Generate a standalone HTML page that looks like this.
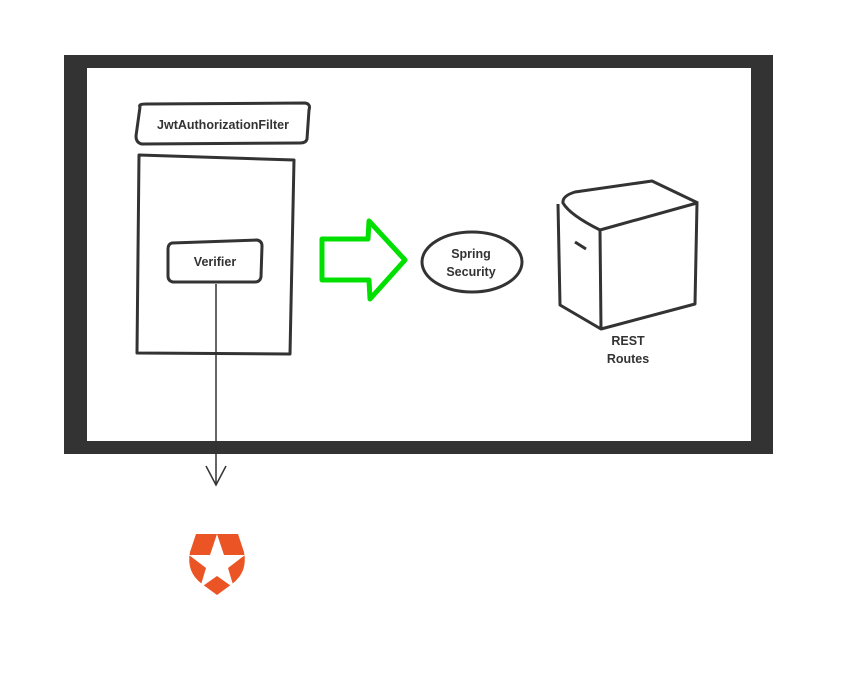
<!DOCTYPE html>
<html><head><style>body{margin:0;background:#fff}svg{display:block}text{font-family:"Liberation Sans",sans-serif;font-weight:bold;font-size:12.5px;fill:#333}</style></head><body>
<svg width="844" height="677" viewBox="0 0 844 677" xmlns="http://www.w3.org/2000/svg">
<rect x="64" y="55" width="709" height="399" fill="#333"/>
<rect x="87" y="68" width="664" height="373" fill="#fff"/>
<g fill="none" stroke="#333" stroke-width="3" stroke-linejoin="round">
<path d="M140 107 Q138 104 146 104 L305 103 Q311 104 309 110 L307 139 Q306 143 300 143 L142 144 Q136 143 136 136 Z"/>
<path d="M139 155 L294 160 L290 354 L137 353 Z"/>
<path d="M172 243 L257 240 Q262 241 262 246 L261 277 Q260 282 255 282 L173 282 Q168 281 168 276 L168 249 Q168 244 172 243 Z"/>
<ellipse cx="472" cy="262" rx="50" ry="30"/>
<path d="M558 204 L560 305 L601 329 L695 304 L697 203 L600 230 L601 329"/>
<path d="M600 230 Q570 215 563 203 Q562 196 575 192 L652 181 L698 203"/>
<path d="M575 242 L586 249"/>
</g>
<path d="M322 239 L368 239 L369 221 L405 260 L370 299 L369 280 L322 280 Z" fill="none" stroke="#00e000" stroke-width="5" stroke-linejoin="round"/>
<g stroke="#333" stroke-width="1.5" fill="none"><path d="M216 284 L216 485"/><path d="M206 466 L216 485 L226 466"/></g>
<text x="223" y="129" text-anchor="middle">JwtAuthorizationFilter</text>
<text x="215" y="266" text-anchor="middle">Verifier</text>
<text x="471" y="258" text-anchor="middle">Spring</text>
<text x="471" y="276" text-anchor="middle">Security</text>
<text x="628" y="345" text-anchor="middle">REST</text>
<text x="628" y="363" text-anchor="middle">Routes</text>
<path d="M196 534 L238 534 L244 552 Q248 572 232 584 L217 595 L202 584 Q186 572 190 552 Z" fill="#eb5424"/>
<path d="M217 534 L224 555 L245 555 L228 568 L234 588 L217 576 L200 588 L206 568 L189 555 L210 555 Z" fill="#fff"/>
</svg>
</body></html>
